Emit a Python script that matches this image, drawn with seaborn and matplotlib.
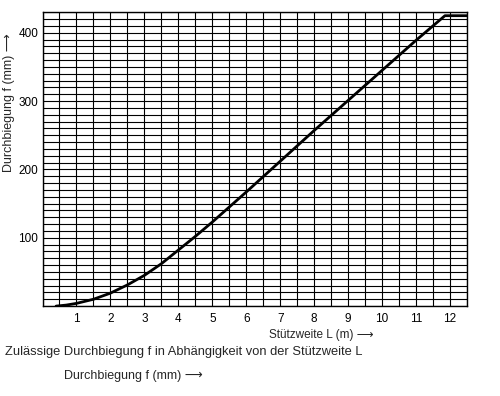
import numpy as np
import pandas as pd
import matplotlib
matplotlib.use("Agg")
import matplotlib.pyplot as plt
import seaborn as sns

# Data
span_L = [0.4, 0.7, 1.0, 1.5, 2.0, 2.5, 3.0, 3.5, 4.0, 4.5, 5.0, 6.0, 7.0, 8.0, 9.0, 10.0, 11.0, 11.85, 12.5]
deflection_f = [0, 1.5, 4, 10, 19, 31, 45, 62, 82, 102, 123, 167, 212, 257, 301, 345, 389, 425, 425]
x_tick_labels = [str(i) for i in range(1, 13)]
y_tick_values = [100, 200, 300, 400]

sns.set_style("white")
plt.rcParams['font.family'] = ['Liberation Sans', 'DejaVu Sans']

df = pd.DataFrame({"L": span_L, "f": deflection_f})

fig = plt.figure(figsize=(5.0, 3.96), dpi=100)
ax = fig.add_axes([0.085, 0.227, 0.849, 0.742])

sns.lineplot(data=df, x="L", y="f", ax=ax, color="black", linewidth=2.0, zorder=5)

ax.set_xlim(0, 12.5)
ax.set_ylim(0, 430)
ax.set_xticks(range(1, 13))
ax.set_xticklabels(x_tick_labels)
ax.set_xticks(np.arange(0, 12.51, 0.5), minor=True)
ax.set_yticks(y_tick_values)
ax.set_yticks(np.arange(0, 431, 10), minor=True)
ax.grid(True, which="both", color="black", linewidth=0.8)
ax.tick_params(which="both", length=0, labelsize=8.5, colors="black")
ax.tick_params(axis="x", pad=5)
ax.tick_params(axis="y", pad=3)
for s in ax.spines.values():
    s.set_color("black")
    s.set_linewidth(1.0)
ax.set_xlabel("")
ax.set_ylabel("")

fig.text(269 / 500, 1 - 335 / 396, "Stützweite L (m) \u27f6", fontsize=8.5, ha="left", va="center")
fig.text(5 / 500, 1 - 352 / 396, "Zulässige Durchbiegung f in Abhängigkeit von der Stützweite L",
         fontsize=9.3, ha="left", va="center")
fig.text(64 / 500, 1 - 376 / 396, "Durchbiegung f (mm) \u27f6", fontsize=9, ha="left", va="center")
fig.text(9 / 500, 1 - 103 / 396, "Durchbiegung f (mm) \u27f6", fontsize=9, rotation=90,
         ha="center", va="center")

fig.savefig("out.png", dpi=100)
